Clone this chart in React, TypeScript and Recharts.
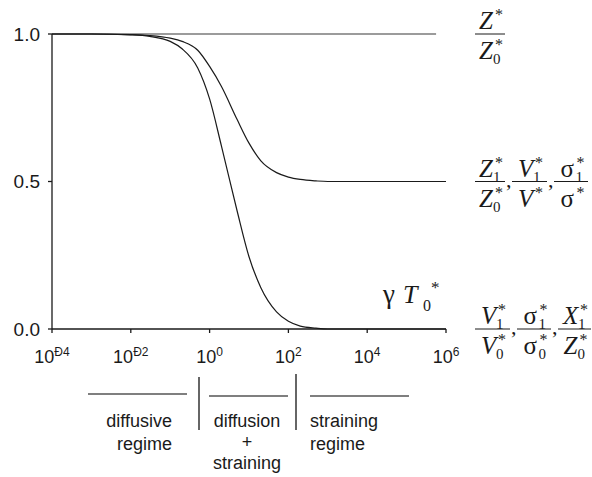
import { LineChart, Line, XAxis, YAxis, ReferenceLine } from "recharts";

// x values (dimensionless time), log-spaced where the curves bend
const xs = [1e-4, 1e-3, 1e-2, 0.03, 0.1, 0.2, 0.5, 1, 2, 5, 10, 20, 50, 100, 200, 500, 1000, 1e4, 1e5, 5.6e5, 1e6];
// Z*/Z0* stays at 1 (grey line stops short of the right edge)
const zRatio = [1, 1, 1, 1, 1, 1, 1, 1, 1, 1, 1, 1, 1, 1, 1, 1, 1, 1, 1, 1, null];
// Z1*/Z0*, V1*/V*, sigma1*/sigma* -> 0.5
const halfCurve = [1, 1, 0.998, 0.995, 0.986, 0.975, 0.945, 0.89, 0.822, 0.71, 0.63, 0.57, 0.53, 0.515, 0.507, 0.502, 0.5, 0.5, 0.5, 0.5, 0.5];
// V1*/V0*, sigma1*/sigma0*, X1*/Z0* -> 0
const zeroCurve = [1, 1, 0.997, 0.992, 0.975, 0.95, 0.885, 0.78, 0.62, 0.4, 0.245, 0.14, 0.058, 0.026, 0.01, 0.003, 0, 0, 0, 0, 0];

const xTicks = [1e-4, 1e-2, 1, 1e2, 1e4, 1e6];
const xTickExp = ["Ð4", "Ð2", "0", "2", "4", "6"];
const yTicks = [0, 0.5, 1];

// right-hand labels: one group per asymptote
const labelValues = [1, 0.5, 0];
const labelFracs = [
  [{ num: ["Z", ""], den: ["Z", "0"] }],
  [
    { num: ["Z", "1"], den: ["Z", "0"] },
    { num: ["V", "1"], den: ["V", ""] },
    { num: ["σ", "1"], den: ["σ", ""] },
  ],
  [
    { num: ["V", "1"], den: ["V", "0"] },
    { num: ["σ", "1"], den: ["σ", "0"] },
    { num: ["X", "1"], den: ["Z", "0"] },
  ],
];

const regimeText = [
  ["diffusive", "regime"],
  ["diffusion", "+", "straining"],
  ["straining", "regime"],
];

const data = xs.map((x, i) => ({
  x,
  zRatio: zRatio[i],
  half: halfCurve[i],
  zero: zeroCurve[i],
}));

const SANS = "'Liberation Sans', Arial, Helvetica, sans-serif";
const SERIF = "'Liberation Serif', 'Times New Roman', serif";
const INK = "#1a1a1a";

const glyphW: Record<string, number> = { Z: 15, V: 16, X: 16, "σ": 14 };
const barW: Record<string, number> = { Z: 30, V: 35, X: 33, "σ": 34 };

function Sym({ x, y, ch, sub }: { x: number; y: number; ch: string; sub: string }) {
  const italic = ch !== "σ";
  const w = glyphW[ch];
  return (
    <g fontFamily={SERIF} fill={INK}>
      <text x={x} y={y} fontSize={25} fontStyle={italic ? "italic" : "normal"}>
        {ch}
      </text>
      {sub && (
        <text x={x + w - (italic ? 1 : -1)} y={y + 5} fontSize={15}>
          {sub}
        </text>
      )}
      <text x={x + w + (italic ? 1 : 2)} y={y - 9} fontSize={16}>
        *
      </text>
    </g>
  );
}

function FracGroup({ viewBox, fracs }: any) {
  if (!viewBox) return null;
  const barY = viewBox.y;
  let left = viewBox.x + viewBox.width + 29;
  const parts: any[] = [];
  fracs.forEach((f: any, i: number) => {
    const bw = Math.max(barW[f.num[0]], barW[f.den[0]]);
    const cx = left + bw / 2;
    const nw = glyphW[f.num[0]] + 7;
    const dw = glyphW[f.den[0]] + 7;
    parts.push(
      <g key={i}>
        <Sym x={cx - nw / 2} y={barY - 5} ch={f.num[0]} sub={f.num[1]} />
        <line x1={left} x2={left + bw} y1={barY} y2={barY} stroke={INK} strokeWidth={1} />
        <Sym x={cx - dw / 2} y={barY + 25} ch={f.den[0]} sub={f.den[1]} />
        {i < fracs.length - 1 && (
          <text x={left + bw + 1} y={barY + 5} fontFamily={SERIF} fontSize={22} fill={INK}>
            ,
          </text>
        )}
      </g>
    );
    left += bw + 7;
  });
  return <g>{parts}</g>;
}

function XTick({ x, y, payload }: any) {
  const idx = xTicks.indexOf(payload.value);
  return (
    <text x={x} y={y + 28} textAnchor="middle" fontFamily={SANS} fontSize={18} fill={INK}>
      10
      <tspan fontSize={12} dy={-7}>
        {xTickExp[idx]}
      </tspan>
    </text>
  );
}

export default function App() {
  return (
    <div style={{ position: "absolute", left: 0, top: 0, width: 592, height: 477, background: "#fff" }}>
      <LineChart
        width={592}
        height={477}
        data={data}
        margin={{ top: 34, right: 146, bottom: 108, left: 0 }}
      >
        <XAxis
          dataKey="x"
          type="number"
          scale="log"
          domain={[1e-4, 1e6]}
          ticks={xTicks}
          tick={<XTick />}
          tickSize={4}
          tickMargin={2}
          height={40}
          stroke={INK}
          strokeWidth={1.3}
          allowDataOverflow
        />
        <YAxis
          type="number"
          domain={[0, 1]}
          ticks={yTicks}
          tickFormatter={(v: number) => v.toFixed(1)}
          tick={{ fontSize: 19, fill: INK, fontFamily: SANS }}
          tickSize={4}
          tickMargin={8}
          width={52}
          stroke={INK}
          strokeWidth={1.3}
        />
        <Line dataKey="zRatio" stroke="#7a7a7a" strokeWidth={1.5} dot={false} isAnimationActive={false} />
        <Line type="monotone" dataKey="half" stroke={INK} strokeWidth={1.2} dot={false} isAnimationActive={false} />
        <Line type="monotone" dataKey="zero" stroke={INK} strokeWidth={1.2} dot={false} isAnimationActive={false} />
        {labelValues.map((v, i) => (
          <ReferenceLine
            key={v}
            y={v}
            stroke="none"
            ifOverflow="visible"
            label={(p: any) => <FracGroup viewBox={p.viewBox} fracs={labelFracs[i]} />}
          />
        ))}
      </LineChart>
      <svg
        width={592}
        height={477}
        style={{ position: "absolute", left: 0, top: 0, pointerEvents: "none" }}
      >
        <g fill={INK} fontFamily={SERIF}>
          <text x={383} y={303} fontSize={27}>
            γ
          </text>
          <text x={403} y={303} fontSize={26} fontStyle="italic">
            T
          </text>
          <text x={423} y={311} fontSize={16}>
            0
          </text>
          <text x={431} y={293} fontSize={17}>
            *
          </text>
        </g>
        <g stroke="#555" strokeWidth={1.3}>
          <line x1={88} x2={187} y1={394} y2={394} />
          <line x1={209} x2={288} y1={396} y2={396} />
          <line x1={310} x2={409} y1={396} y2={396} />
        </g>
        <g stroke="#666" strokeWidth={2}>
          <line x1={199} x2={199} y1={377} y2={430} />
          <line x1={296} x2={296} y1={374} y2={430} />
        </g>
        <g fontFamily={SANS} fontSize={18} fill={INK}>
          {regimeText[0].map((t, i) => (
            <text key={t} x={172} y={427 + i * 23} textAnchor="end">
              {t}
            </text>
          ))}
          {regimeText[1].map((t, i) => (
            <text key={t} x={247} y={427 + i * 21} textAnchor="middle">
              {t}
            </text>
          ))}
          {regimeText[2].map((t, i) => (
            <text key={t} x={310} y={427 + i * 23}>
              {t}
            </text>
          ))}
        </g>
      </svg>
    </div>
  );
}
